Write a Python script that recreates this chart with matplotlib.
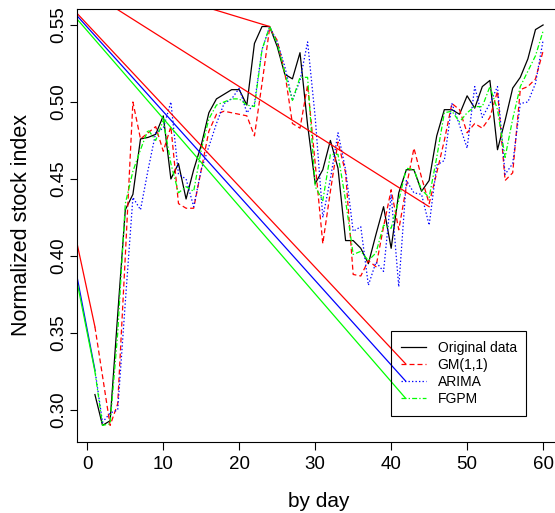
import matplotlib
matplotlib.use("Agg")
import matplotlib.pyplot as plt

plt.rcParams["font.family"] = ["Liberation Sans", "DejaVu Sans"]

# day index
days = list(range(1, 61))

# series
original = [0.310, 0.290, 0.293, 0.362, 0.430, 0.440, 0.476, 0.477, 0.479, 0.491,
            0.450, 0.460, 0.437, 0.456, 0.472, 0.493, 0.502, 0.505, 0.508, 0.508,
            0.498, 0.538, 0.549, 0.549, 0.536, 0.518, 0.515, 0.532, 0.485, 0.447,
            0.456, 0.475, 0.457, 0.410, 0.410, 0.405, 0.395, 0.414, 0.432, 0.405,
            0.441, 0.456, 0.456, 0.442, 0.449, 0.478, 0.495, 0.495, 0.492, 0.504,
            0.496, 0.510, 0.514, 0.469, 0.488, 0.509, 0.516, 0.528, 0.547, 0.550]
gm11 = [0.354, 0.322, 0.290, 0.304, 0.400, 0.500, 0.476, 0.480, 0.484, 0.468,
        0.484, 0.434, 0.431, 0.431, 0.456, 0.481, 0.492, 0.494, 0.493, 0.492,
        0.491, 0.478, 0.512, 0.548, 0.540, 0.519, 0.486, 0.483, 0.511, 0.460,
        0.408, 0.442, 0.474, 0.454, 0.388, 0.387, 0.397, 0.393, 0.419, 0.443,
        0.417, 0.445, 0.470, 0.451, 0.434, 0.454, 0.475, 0.499, 0.495, 0.480,
        0.486, 0.483, 0.490, 0.507, 0.449, 0.454, 0.508, 0.510, 0.515, 0.533]
arima = [0.326, 0.292, 0.298, 0.300, 0.370, 0.438, 0.430, 0.456, 0.480, 0.483,
         0.500, 0.453, 0.450, 0.432, 0.456, 0.471, 0.486, 0.499, 0.502, 0.509,
         0.493, 0.499, 0.534, 0.549, 0.539, 0.523, 0.501, 0.514, 0.539, 0.490,
         0.425, 0.450, 0.480, 0.456, 0.416, 0.419, 0.381, 0.396, 0.390, 0.440,
         0.380, 0.449, 0.441, 0.440, 0.420, 0.459, 0.462, 0.499, 0.485, 0.470,
         0.510, 0.490, 0.499, 0.510, 0.453, 0.460, 0.499, 0.500, 0.512, 0.540]
fgpm = [0.325, 0.290, 0.291, 0.350, 0.434, 0.455, 0.469, 0.482, 0.475, 0.488,
        0.460, 0.441, 0.445, 0.442, 0.469, 0.489, 0.498, 0.500, 0.502, 0.502,
        0.498, 0.497, 0.534, 0.549, 0.538, 0.519, 0.501, 0.516, 0.516, 0.445,
        0.436, 0.466, 0.466, 0.436, 0.401, 0.403, 0.397, 0.402, 0.420, 0.418,
        0.436, 0.457, 0.456, 0.443, 0.438, 0.464, 0.493, 0.494, 0.487, 0.493,
        0.497, 0.497, 0.510, 0.495, 0.464, 0.489, 0.510, 0.520, 0.530, 0.546]

# stray solid segments that show up in the original figure
gm_stray = [([-3, 1], [0.446, 0.354]),
            ([-3, 41.9], [0.5662, 0.330]),
            ([1, 45], [0.5693, 0.432]),
            ([10, 24], [0.570, 0.549])]
arima_stray = [([-3, 1], [0.4288, 0.326]),
               ([-3, 41.9], [0.565, 0.3188])]
fgpm_stray = [([-3, 1], [0.4238, 0.325]),
              ([-3, 41.9], [0.5632, 0.3076])]

x_ticks = [0, 10, 20, 30, 40, 50, 60]
y_ticks = [0.30, 0.35, 0.40, 0.45, 0.50, 0.55]

fig = plt.figure(figsize=(5.55, 5.13), dpi=100)
ax = fig.add_axes([77 / 555, 71 / 513, 484 / 555, 433.5 / 513])

lw = 0.9
ax.plot(days, original, color="black", lw=lw, label="Original data")
ax.plot(days, gm11, color="#FF0000", lw=lw, dashes=(4, 2.4), label="GM(1,1)")
ax.plot(days, arima, color="#0000FF", lw=lw, dashes=(1.1, 1.7), label="ARIMA")
ax.plot(days, fgpm, color="#00FF00", lw=lw, dashes=(4, 1.7, 1.1, 1.7), label="FGPM")

for xs, ys in gm_stray:
    ax.plot(xs, ys, color="#FF0000", lw=lw)
for xs, ys in arima_stray:
    ax.plot(xs, ys, color="#0000FF", lw=lw)
for xs, ys in fgpm_stray:
    ax.plot(xs, ys, color="#00FF00", lw=lw)

ax.set_xlim(-1.36, 62.36)
ax.set_ylim(0.2792, 0.5607)
ax.set_xticks(x_ticks)
ax.set_xticklabels([str(t) for t in x_ticks])
ax.set_yticks(y_ticks)
ax.set_yticklabels(["%.2f" % t for t in y_ticks])
for lab in ax.get_yticklabels():
    lab.set_rotation(90)
    lab.set_va("center")

ax.tick_params(axis="both", direction="out", length=5.4, width=0.8,
               labelsize=13.5, colors="black")
ax.tick_params(axis="x", pad=4.5)
ax.tick_params(axis="y", pad=1.5)
for sp in ax.spines.values():
    sp.set_linewidth(0.8)
    sp.set_color("black")

fig.text(319 / 555, 1 - 507 / 513, "by day", ha="center", va="baseline", fontsize=15)
fig.text(27 / 555, 1 - 225 / 513, "Normalized stock index", ha="center", va="baseline",
         rotation=90, rotation_mode="anchor", fontsize=15.5)

# legend box is see-through in the original, the stray lines run into it
leg = ax.legend(loc="upper left", bbox_to_anchor=(391 / 555, 1 - 331 / 513),
                bbox_transform=fig.transFigure, borderaxespad=0, fontsize=10,
                handlelength=1.8, handletextpad=0.85, borderpad=0.7,
                labelspacing=0.22, fancybox=False)
frame = leg.get_frame()
frame.set_facecolor("none")
frame.set_edgecolor("black")
frame.set_alpha(None)
frame.set_linewidth(0.8)

plt.savefig("out.png", dpi=100)
